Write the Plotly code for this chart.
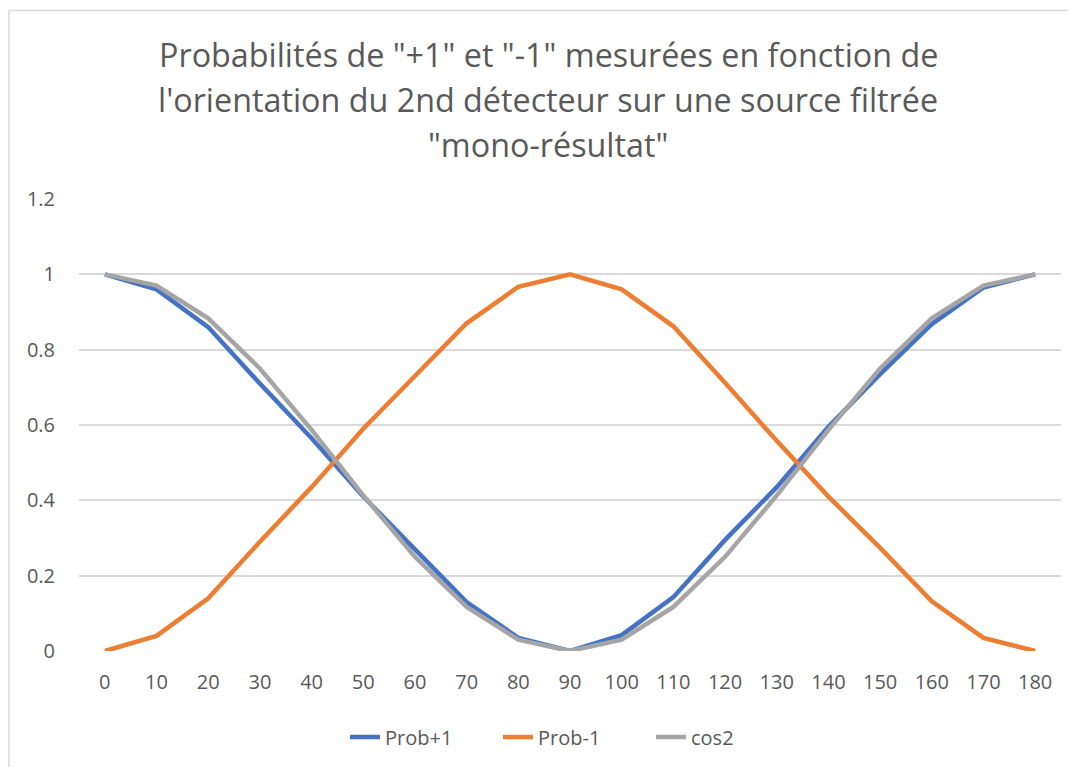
import plotly.graph_objects as go

angles = ["0", "10", "20", "30", "40", "50", "60", "70", "80", "90",
          "100", "110", "120", "130", "140", "150", "160", "170", "180"]
prob_plus = [1.0, 0.96, 0.86, 0.71, 0.565, 0.41, 0.27, 0.13, 0.035, 0.0,
             0.042, 0.143, 0.295, 0.435, 0.595, 0.735, 0.868, 0.965, 1.0]
prob_minus = [0.0, 0.04, 0.14, 0.29, 0.435, 0.59, 0.73, 0.87, 0.967, 1.0,
              0.96, 0.862, 0.712, 0.558, 0.41, 0.274, 0.132, 0.035, 0.0]
cos2 = [1.0, 0.970, 0.883, 0.75, 0.587, 0.413, 0.25, 0.117, 0.030, 0.0,
        0.030, 0.117, 0.25, 0.413, 0.587, 0.75, 0.883, 0.970, 1.0]
series_names = ["Prob+1", "Prob-1", "cos2"]
series_colors = ["#4472C4", "#ED7D31", "#A5A5A5"]
title_lines = ['Probabilités de "+1" et "-1" mesurées en fonction de',
               "l'orientation du 2nd détecteur sur une source filtrée",
               '"mono-résultat"']

# page body has an 8px margin; work in page pixels and offset
OFF = 8
W, H = 1076 - OFF, 767 - OFF
L, R, T, B = 79 - OFF, 1061 - OFF, 199 - OFF, 652 - OFF

fig = go.Figure()
for name, vals, col in zip(series_names, [prob_plus, prob_minus, cos2], series_colors):
    fig.add_trace(go.Scatter(x=angles, y=vals, mode="lines", name=name,
                             line=dict(color=col, width=4.5)))

font_family = "Open Sans, Noto Sans, sans-serif"
txt = "#595959"

def px_x(p):
    return (p - OFF - L) / (R - L)

def px_y(p):
    return (B - (p - OFF)) / (B - T)

annotations = []
for i, line in enumerate(title_lines):
    annotations.append(dict(text=line, xref="paper", yref="paper",
                            x=px_x(548), y=px_y(54 + 45 * i),
                            xanchor="center", yanchor="middle", showarrow=False,
                            font=dict(family=font_family, size=32.3, color=txt)))

fig.update_layout(
    width=W, height=H,
    margin=dict(l=L, r=W - R, t=T, b=H - B, pad=0),
    paper_bgcolor="white", plot_bgcolor="white",
    showlegend=True,
    legend=dict(orientation="h", x=px_x(345), y=px_y(737), xanchor="left",
                yanchor="middle", font=dict(family=font_family, size=20, color=txt),
                entrywidth=108, entrywidthmode="pixels", tracegroupgap=0),
    annotations=annotations,
    font=dict(family=font_family, color=txt),
    shapes=[dict(type="rect", xref="paper", yref="paper",
                 x0=px_x(9), x1=px_x(1100), y0=px_y(800), y1=px_y(10),
                 line=dict(color="#D9D9D9", width=1.5), layer="below")],
)
fig.update_xaxes(type="category", range=[-0.5, 18.5], showgrid=False,
                 showline=False, zeroline=False, ticks="",
                 tickfont=dict(family=font_family, size=20, color=txt),
                 ticklabelstandoff=17)
fig.update_yaxes(range=[0, 1.2], dtick=0.2, showgrid=True, gridcolor="#D9D9D9",
                 gridwidth=1.5, zeroline=False, showline=False, ticks="",
                 tickformat="~g",
                 tickfont=dict(family=font_family, size=20, color=txt),
                 ticklabelstandoff=23)

fig.write_html("out.html")
